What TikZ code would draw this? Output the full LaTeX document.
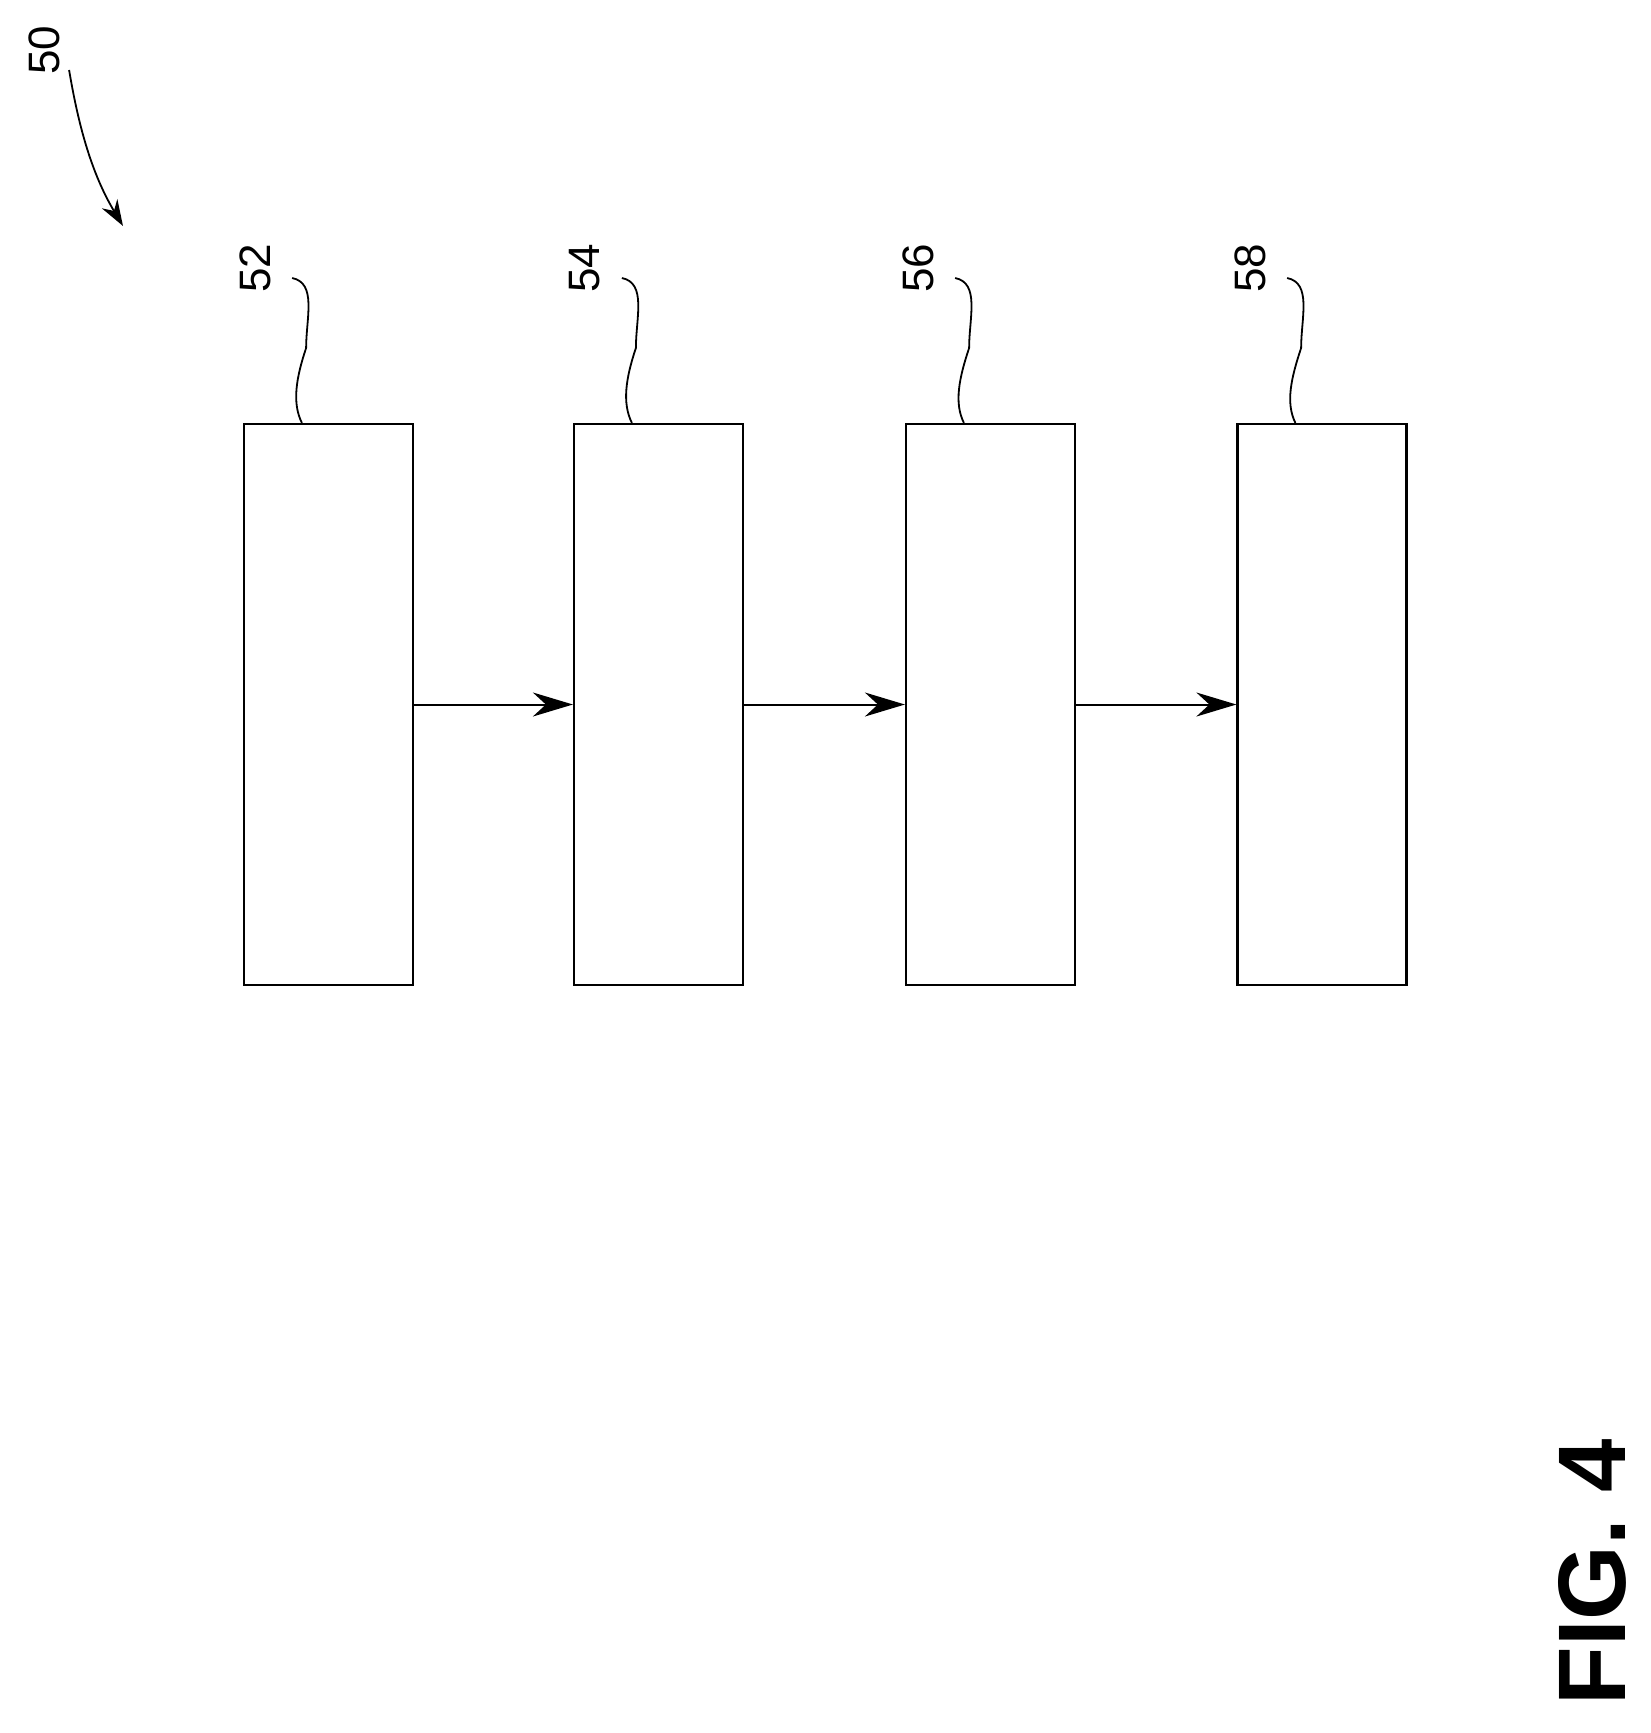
\documentclass[tikz,border=0pt]{standalone}
\usepackage{fontspec}
\setmainfont{Liberation Sans}
\usetikzlibrary{arrows.meta}

\begin{document}
\begin{tikzpicture}[
  x=1pt, y=-1pt,
  bnode/.style={draw,line width=2.2pt,rectangle,minimum width=169pt,minimum height=561pt,inner sep=0pt},
  lnode/.style={rotate=90,font=\fontsize{44}{44}\selectfont},
  lead/.style={line width=1.8pt}
]
  \useasboundingbox (0,0) rectangle (1650,1733);

  % blocks
  \node[bnode] (b52) at (328.5,704.5) {};
  \node[bnode] (b54) at (658.5,704.5) {};
  \node[bnode] (b56) at (990.5,704.5) {};
  \node[bnode] (b58) at (1322,704.5) {};

  % reference numerals
  \node[lnode] (l50) at (44,50) {50};
  \node[lnode] (l52) at (255,268) {52};
  \node[lnode] (l54) at (585,268) {54};
  \node[lnode] (l56) at (918,268) {56};
  \node[lnode] (l58) at (1250,268) {58};
  \node[rotate=90,font=\bfseries\fontsize{96}{96}\selectfont] (fig) at (1592,1572) {FIG. 4};

  % leaders
  \coordinate (e52) at ([xshift=59pt]b52.north west);
  \coordinate (e54) at ([xshift=59pt]b54.north west);
  \coordinate (e56) at ([xshift=59pt]b56.north west);
  \coordinate (e58) at ([xshift=59pt]b58.north west);
  \draw[lead] (l52.south) ++(18,10) .. controls +(25,5) and +(0,-30) .. +(14,70) .. controls +(-10,30) and +(-10,-20) .. (e52);
  \draw[lead] (l54.south) ++(18,10) .. controls +(25,5) and +(0,-30) .. +(14,70) .. controls +(-10,30) and +(-10,-20) .. (e54);
  \draw[lead] (l56.south) ++(18,10) .. controls +(25,5) and +(0,-30) .. +(14,70) .. controls +(-10,30) and +(-10,-20) .. (e56);
  \draw[lead] (l58.south) ++(18,10) .. controls +(25,5) and +(0,-30) .. +(14,70) .. controls +(-10,30) and +(-10,-20) .. (e58);
  \coordinate (t50) at (123,226);
  \draw[lead,-{Stealth[length=26pt,width=18pt]}] (l50.south) ++(6,20) .. controls +(10,60) and +(-30,-50) .. (t50);

  % edges
  \draw[line width=2pt,-{Stealth[length=40pt,width=24pt]}] (b52) -- (b54);
  \draw[line width=2pt,-{Stealth[length=40pt,width=24pt]}] (b54) -- (b56);
  \draw[line width=2pt,-{Stealth[length=40pt,width=24pt]}] (b56) -- (b58);
\end{tikzpicture}
\end{document}
